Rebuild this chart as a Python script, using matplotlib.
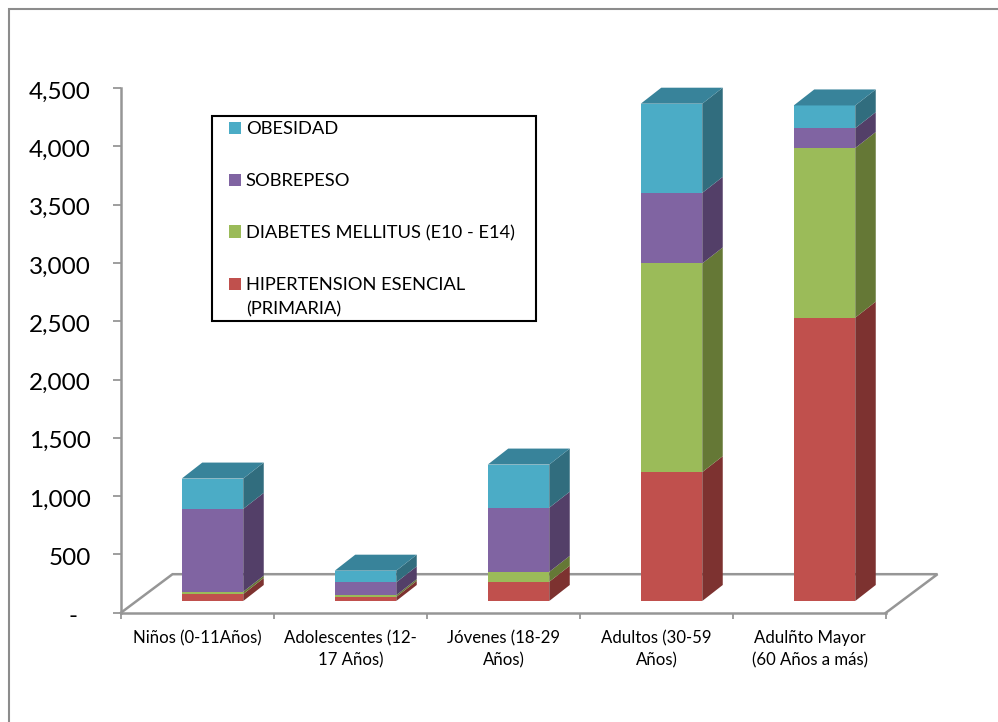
import numpy as np
import matplotlib
matplotlib.use("Agg")
import matplotlib.pyplot as plt
from matplotlib.patches import Polygon, Rectangle, Patch
from matplotlib.lines import Line2D
from matplotlib.transforms import ScaledTranslation

plt.rcParams['font.family'] = ['Lato', 'DejaVu Sans']

categories = ["Niños (0-11Años)", "Adolescentes (12-\n17 Años)", "Jóvenes (18-29\nAños)",
              "Adultos (30-59\nAños)", "Adulñto Mayor\n(60 Años a más)"]
hipertension = [60, 35, 165, 1105, 2430]
diabetes = [20, 15, 85, 1790, 1455]
sobrepeso = [710, 110, 550, 605, 170]
obesidad = [260, 100, 370, 765, 195]
y_ticks = [0, 500, 1000, 1500, 2000, 2500, 3000, 3500, 4000, 4500]
y_tick_labels = ["-  ", "500", "1,000", "1,500", "2,000", "2,500", "3,000", "3,500", "4,000", "4,500"]
series_names = ["HIPERTENSION ESENCIAL\n(PRIMARIA)", "DIABETES MELLITUS (E10 - E14)", "SOBREPESO", "OBESIDAD"]

W, H = 998, 722
fig = plt.figure(figsize=(W / 100, H / 100), dpi=100, facecolor="white")
X0, X1, Y0, Y1 = 121.0, 886.0, 612.7, 88.0
ax = fig.add_axes([X0 / W, 1 - Y0 / H, (X1 - X0) / W, (Y0 - Y1) / H])
ax.set_xlim(-0.5, 4.5)
ax.set_ylim(0, 4500)
ax.patch.set_alpha(0)

GRAY = "#969696"
px_x = (X1 - X0) / 5
px_y = (Y0 - Y1) / 4500
DX = 20.5 / px_x          # oblique depth in data units
DY = 16.0 / px_y
FLOOR_DX = 51.5 / px_x
FLOOR_DY = 38.5 / px_y
BASE = 11.7 / px_y        # the bars stand on the floor, above the axis line
SHIFT = 15.0 / px_x
WIDTH = 61.5 / px_x

# Floor of the pseudo-3D plot
ax.plot([-0.5, -0.5 + FLOOR_DX, 4.5 + FLOOR_DX, 4.5],
        [0, FLOOR_DY, FLOOR_DY, 0], color=GRAY, lw=1.8, clip_on=False, zorder=1, solid_joinstyle="miter")

colors = ["#C0504D", "#9BBB59", "#8064A2", "#4BACC6"]
side_colors = ["#7D3230", "#657836", "#533F68", "#316D7E"]
top_color = "#38839A"
values = [hipertension, diabetes, sobrepeso, obesidad]

x = np.arange(len(categories)) + SHIFT
bottom = np.full(len(categories), BASE, dtype=float)
for vals, c, sc in zip(values, colors, side_colors):
    vals = np.asarray(vals, dtype=float)
    ax.bar(x, vals, WIDTH, bottom=bottom, color=c, edgecolor="none", zorder=3, clip_on=False)
    for xi, b, v in zip(x, bottom, vals):
        r = xi + WIDTH / 2
        ax.add_patch(Polygon([(r, b), (r + DX, b + DY), (r + DX, b + v + DY), (r, b + v)],
                             closed=True, fc=sc, ec="none", zorder=3, clip_on=False))
    bottom = bottom + vals
for xi, t in zip(x, bottom):
    l, r = xi - WIDTH / 2, xi + WIDTH / 2
    ax.add_patch(Polygon([(l, t), (r, t), (r + DX, t + DY), (l + DX, t + DY)],
                         closed=True, fc=top_color, ec="none", zorder=3, clip_on=False))

for s in ("top", "right"):
    ax.spines[s].set_visible(False)
for s in ("left", "bottom"):
    ax.spines[s].set_color(GRAY)
    ax.spines[s].set_linewidth(1.8)

ax.set_yticks(y_ticks)
ax.set_yticklabels(y_tick_labels, fontsize=17.5, color="black")
ax.tick_params(axis="y", length=5.8, width=1.3, color=GRAY, pad=16)
down = ScaledTranslation(0, -2 / 100, fig.dpi_scale_trans)
for lab in ax.get_yticklabels():
    lab.set_transform(lab.get_transform() + down)
ax.set_xticks(np.arange(-0.5, 5, 1))
ax.set_xticklabels([])
ax.set_xticks(np.arange(5), minor=True)
ax.set_xticklabels(categories, minor=True, fontsize=12.1, color="black", linespacing=1.44, ha="center")
ax.tick_params(axis="x", which="major", length=4.5, width=1.3, color=GRAY)
ax.tick_params(axis="x", which="minor", length=0, pad=12.5)

# Legend
fig.add_artist(Rectangle((211.5 / W, 1 - 321 / H), (535.5 - 211.5) / W, (321 - 115.7) / H,
                         transform=fig.transFigure, fc="white", ec="black", lw=1.5, zorder=4))
handles = [Patch(fc=colors[i], ec="none", label=series_names[i]) for i in (3, 2, 1, 0)]
leg = fig.legend(handles=handles, loc="upper left", bbox_to_anchor=(229 / W, 1 - 121.5 / H),
                 frameon=False, fontsize=13.2, labelspacing=1.945, handlelength=0.65, handleheight=0.65,
                 handletextpad=0.27, borderpad=0, borderaxespad=0)
leg.set_zorder(5)
leg.get_texts()[3].set_linespacing(1.63)
last = leg.legend_handles[3]
last.set_y(last.get_y() + 12.5 * 0.72)   # swatch sits beside the first line of the two-line label

# Outer chart frame: left and top edges only
fig.add_artist(Line2D([9 / W, 9 / W, 1], [0, 1 - 9 / H, 1 - 9 / H], transform=fig.transFigure,
                      color="#8C8C8C", lw=1.5, zorder=0, solid_joinstyle="miter"))

fig.savefig("out.png", dpi=100, facecolor="white")
